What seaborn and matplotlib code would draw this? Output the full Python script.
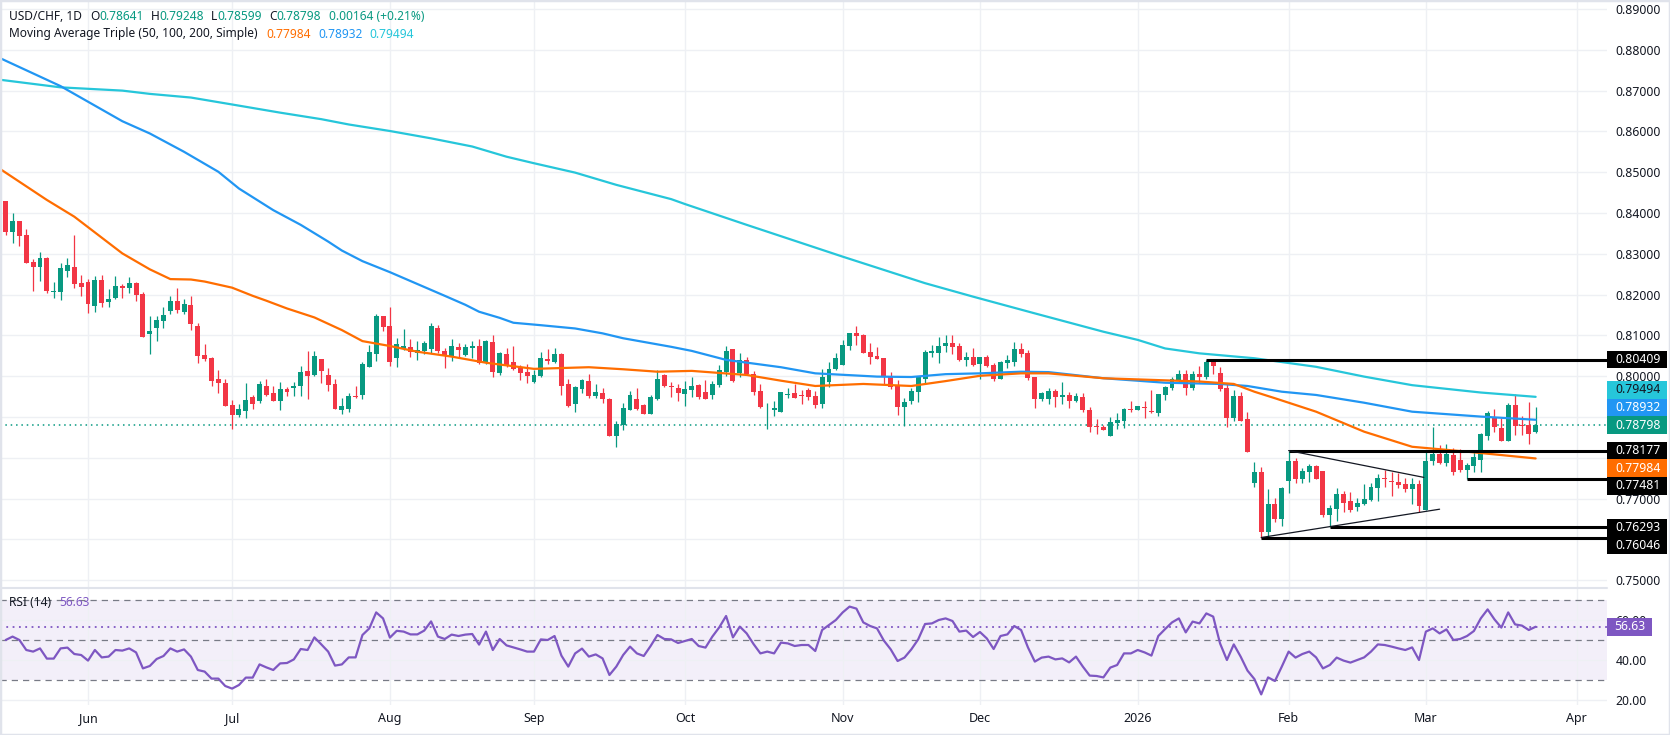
import matplotlib
matplotlib.use("Agg")
import matplotlib.pyplot as plt
import matplotlib.transforms as mtransforms
from matplotlib.patches import Rectangle
from matplotlib.ticker import FuncFormatter
import seaborn as sns
import pandas as pd
import numpy as np

UP = "#089981"
DOWN = "#f23645"
MA50_C = "#ff6d00"
MA100_C = "#2196f3"
MA200_C = "#26c6da"
RSI_C = "#7e57c2"
GRID = "#eef0f4"
TXT = "#131722"

# ---- data (daily candles, every weekday from 15 May 2025) ----
first_day = "2025-05-15"

opens = [0.8429, 0.8354, 0.8380, 0.8346, 0.8280, 0.8268, 0.8290, 0.8206, 0.8207, 0.8259,
         0.8268, 0.8228, 0.8231, 0.8173, 0.8237, 0.8183, 0.8192, 0.8220, 0.8215, 0.8228,
         0.8201, 0.8104, 0.8119, 0.8136, 0.8161, 0.8184, 0.8157, 0.8175, 0.8123, 0.8053,
         0.8045, 0.7993, 0.7983, 0.7929, 0.7905, 0.7915, 0.7949, 0.7938, 0.7976, 0.7960,
         0.7938, 0.7969, 0.7971, 0.7977, 0.8012, 0.8004, 0.8041, 0.8003, 0.7981, 0.7917,
         0.7920, 0.7951, 0.7954, 0.8023, 0.8055, 0.8148, 0.8123, 0.8044, 0.8066, 0.8072,
         0.8058, 0.8062, 0.8067, 0.8118, 0.8062, 0.8049, 0.8072, 0.8052, 0.8070, 0.8074,
         0.8034, 0.8084, 0.8008, 0.8054, 0.8035, 0.8022, 0.8010, 0.7986, 0.8000, 0.8041,
         0.8035, 0.8054, 0.7981, 0.7933, 0.7969, 0.7988, 0.7951, 0.7959, 0.7944, 0.7854,
         0.7880, 0.7917, 0.7944, 0.7929, 0.7908, 0.7945, 0.8002, 0.7976, 0.7971, 0.7957,
         0.7965, 0.7978, 0.7961, 0.7955, 0.7979, 0.8011, 0.8067, 0.8009, 0.8040, 0.8005,
         0.7964, 0.7931, 0.7918, 0.7913, 0.7955, 0.7959, 0.7954, 0.7965, 0.7951, 0.7933,
         0.7986, 0.8018, 0.8027, 0.8075, 0.8106, 0.8101, 0.8059, 0.8049, 0.8045, 0.8000,
         0.7978, 0.7925, 0.7940, 0.7961, 0.7994, 0.8058, 0.8057, 0.8075, 0.8081, 0.8074,
         0.8040, 0.8046, 0.8030, 0.8046, 0.8027, 0.7993, 0.8033, 0.8036, 0.8066, 0.8056,
         0.7997, 0.7943, 0.7945, 0.7964, 0.7950, 0.7954, 0.7938, 0.7950, 0.7917, 0.7879,
         0.7876, 0.7854, 0.7886, 0.7891, 0.7920, 0.7917, 0.7925, 0.7915, 0.7911, 0.7954,
         0.7970, 0.7991, 0.8006, 0.7972, 0.8006, 0.7999, 0.8036, 0.8007, 0.7972, 0.7898,
         0.7951, 0.7895, 0.7739, 0.7764, 0.7619, 0.7687, 0.7650, 0.7742, 0.7792, 0.7749,
         0.7766, 0.7780, 0.7768, 0.7660, 0.7674, 0.7711, 0.7693, 0.7680, 0.7687, 0.7697,
         0.7727, 0.7750, 0.7742, 0.7741, 0.7736, 0.7724, 0.7736, 0.7672, 0.7791, 0.7809,
         0.7788, 0.7807, 0.7795, 0.7769, 0.7780, 0.7795, 0.7854, 0.7899, 0.7874, 0.7842,
         0.7929, 0.7880, 0.7880, 0.78641]

highs = [0.8430, 0.8399, 0.8381, 0.8361, 0.8287, 0.8304, 0.8293, 0.8231, 0.8277, 0.8290,
         0.8346, 0.8248, 0.8238, 0.8246, 0.8247, 0.8214, 0.8246, 0.8225, 0.8242, 0.8232,
         0.8206, 0.8147, 0.8147, 0.8170, 0.8197, 0.8215, 0.8188, 0.8197, 0.8130, 0.8080,
         0.8048, 0.8015, 0.7993, 0.7942, 0.7932, 0.7984, 0.7953, 0.7989, 0.7993, 0.7976,
         0.7985, 0.7973, 0.7985, 0.8025, 0.8061, 0.8062, 0.8041, 0.8019, 0.7992, 0.7947,
         0.7958, 0.7976, 0.8036, 0.8077, 0.8152, 0.8148, 0.8170, 0.8093, 0.8116, 0.8090,
         0.8086, 0.8086, 0.8131, 0.8125, 0.8068, 0.8090, 0.8081, 0.8079, 0.8086, 0.8090,
         0.8089, 0.8101, 0.8060, 0.8068, 0.8074, 0.8027, 0.8031, 0.8015, 0.8060, 0.8067,
         0.8068, 0.8056, 0.7993, 0.7976, 0.7993, 0.8005, 0.7982, 0.7972, 0.7947, 0.7890,
         0.7935, 0.7964, 0.7971, 0.7932, 0.7954, 0.8014, 0.8005, 0.7985, 0.7982, 0.7988,
         0.7997, 0.7980, 0.7991, 0.7988, 0.8027, 0.8074, 0.8067, 0.8057, 0.8046, 0.8012,
         0.7982, 0.7934, 0.7938, 0.7961, 0.7971, 0.7982, 0.7966, 0.7971, 0.7963, 0.8017,
         0.8035, 0.8057, 0.8089, 0.8106, 0.8123, 0.8103, 0.8081, 0.8071, 0.8045, 0.8010,
         0.7991, 0.7947, 0.7970, 0.7997, 0.8064, 0.8077, 0.8095, 0.8100, 0.8100, 0.8081,
         0.8059, 0.8069, 0.8046, 0.8052, 0.8032, 0.8038, 0.8052, 0.8085, 0.8082, 0.8064,
         0.7999, 0.7962, 0.7970, 0.7969, 0.7986, 0.7962, 0.7958, 0.7958, 0.7925, 0.7894,
         0.7880, 0.7901, 0.7911, 0.7923, 0.7939, 0.7927, 0.7940, 0.7966, 0.7956, 0.7976,
         0.7997, 0.8015, 0.8015, 0.8013, 0.8025, 0.8040, 0.80409, 0.8022, 0.7980, 0.7966,
         0.7962, 0.7912, 0.7790, 0.7778, 0.7723, 0.7701, 0.7729, 0.78177, 0.7799, 0.7774,
         0.7785, 0.7782, 0.7768, 0.7684, 0.7725, 0.7719, 0.7716, 0.7701, 0.7736, 0.7737,
         0.7760, 0.7769, 0.7764, 0.7762, 0.7750, 0.7750, 0.7746, 0.7815, 0.7876, 0.7831,
         0.7833, 0.7823, 0.7821, 0.7788, 0.7813, 0.7860, 0.7915, 0.7919, 0.7897, 0.7934,
         0.7956, 0.7902, 0.7937, 0.79248]

lows = [0.8346, 0.8327, 0.8318, 0.8277, 0.8210, 0.8234, 0.8205, 0.8192, 0.8187, 0.8244,
        0.8217, 0.8197, 0.8156, 0.8158, 0.8170, 0.8170, 0.8189, 0.8192, 0.8203, 0.8185,
        0.8097, 0.8055, 0.8087, 0.8119, 0.8152, 0.8154, 0.8153, 0.8113, 0.8033, 0.8037,
        0.7977, 0.7958, 0.7927, 0.7870, 0.7901, 0.7898, 0.7920, 0.7934, 0.7952, 0.7938,
        0.7917, 0.7951, 0.7951, 0.7951, 0.7944, 0.8001, 0.7984, 0.7964, 0.7919, 0.7908,
        0.7912, 0.7946, 0.7943, 0.8022, 0.8038, 0.8111, 0.8025, 0.8023, 0.8063, 0.8046,
        0.8040, 0.8054, 0.8058, 0.8058, 0.8021, 0.8038, 0.8045, 0.8049, 0.8044, 0.8030,
        0.8031, 0.7998, 0.8004, 0.8022, 0.8015, 0.7991, 0.7984, 0.7984, 0.7998, 0.8030,
        0.8033, 0.7954, 0.7925, 0.7913, 0.7960, 0.7947, 0.7947, 0.7935, 0.7854, 0.7827,
        0.7868, 0.7916, 0.7917, 0.7908, 0.7907, 0.7942, 0.7973, 0.7949, 0.7938, 0.7928,
        0.7949, 0.7945, 0.7945, 0.7945, 0.7973, 0.8000, 0.7987, 0.7999, 0.8002, 0.7955,
        0.7923, 0.7871, 0.7902, 0.7913, 0.7946, 0.7947, 0.7933, 0.7942, 0.7923, 0.7923,
        0.7974, 0.8015, 0.8027, 0.8064, 0.8077, 0.8056, 0.8030, 0.8041, 0.7982, 0.7968,
        0.7906, 0.7877, 0.7931, 0.7936, 0.7984, 0.8046, 0.8033, 0.8060, 0.8055, 0.8037,
        0.8026, 0.8025, 0.7994, 0.8022, 0.7989, 0.7992, 0.8019, 0.8025, 0.8048, 0.7991,
        0.7923, 0.7940, 0.7932, 0.7925, 0.7933, 0.7923, 0.7937, 0.7913, 0.7864, 0.7858,
        0.7867, 0.7854, 0.7871, 0.7872, 0.7913, 0.7917, 0.7898, 0.7911, 0.7903, 0.7942,
        0.7966, 0.7983, 0.7954, 0.7966, 0.7984, 0.7992, 0.8005, 0.7964, 0.7876, 0.7889,
        0.7891, 0.7813, 0.7729, 0.76046, 0.7607, 0.7643, 0.7634, 0.7713, 0.7737, 0.7737,
        0.7740, 0.7747, 0.7656, 0.76293, 0.7646, 0.7666, 0.7668, 0.7670, 0.7684, 0.7695,
        0.7693, 0.7729, 0.7706, 0.7726, 0.7715, 0.7687, 0.7668, 0.7672, 0.7782, 0.7785,
        0.7781, 0.7758, 0.7764, 0.77481, 0.7764, 0.7764, 0.7844, 0.7864, 0.7842, 0.7842,
        0.7856, 0.7856, 0.7833, 0.78599]

closes = [0.8354, 0.8380, 0.8344, 0.8278, 0.8268, 0.8290, 0.8210, 0.8209, 0.8265, 0.8273,
          0.8227, 0.8219, 0.8178, 0.8236, 0.8180, 0.8188, 0.8221, 0.8215, 0.8228, 0.8199,
          0.8097, 0.8111, 0.8138, 0.8150, 0.8184, 0.8162, 0.8178, 0.8129, 0.8050, 0.8041,
          0.7989, 0.7984, 0.7927, 0.7905, 0.7920, 0.7942, 0.7932, 0.7981, 0.7955, 0.7940,
          0.7969, 0.7962, 0.7975, 0.8010, 0.8001, 0.8050, 0.8013, 0.7979, 0.7920, 0.7927,
          0.7951, 0.7949, 0.8030, 0.8059, 0.8148, 0.8121, 0.8036, 0.8079, 0.8074, 0.8060,
          0.8064, 0.8081, 0.8124, 0.8062, 0.8052, 0.8074, 0.8064, 0.8072, 0.8074, 0.8033,
          0.8087, 0.8011, 0.8057, 0.8027, 0.8017, 0.8008, 0.8000, 0.8003, 0.8045, 0.8038,
          0.8054, 0.7977, 0.7927, 0.7974, 0.7991, 0.7951, 0.7961, 0.7943, 0.7854, 0.7884,
          0.7922, 0.7953, 0.7920, 0.7908, 0.7949, 0.7993, 0.7976, 0.7974, 0.7960, 0.7969,
          0.7976, 0.7950, 0.7945, 0.7981, 0.8015, 0.8062, 0.7989, 0.8040, 0.8005, 0.7961,
          0.7925, 0.7933, 0.7923, 0.7961, 0.7957, 0.7947, 0.7952, 0.7949, 0.7929, 0.7998,
          0.8018, 0.8044, 0.8077, 0.8106, 0.8099, 0.8058, 0.8048, 0.8043, 0.8000, 0.7974,
          0.7925, 0.7937, 0.7964, 0.7997, 0.8059, 0.8061, 0.8074, 0.8081, 0.8072, 0.8040,
          0.8046, 0.8027, 0.8046, 0.8026, 0.7993, 0.8036, 0.8040, 0.8066, 0.8054, 0.7996,
          0.7943, 0.7960, 0.7964, 0.7950, 0.7954, 0.7938, 0.7952, 0.7916, 0.7876, 0.7876,
          0.7867, 0.7887, 0.7893, 0.7920, 0.7918, 0.7927, 0.7921, 0.7912, 0.7956, 0.7974,
          0.7993, 0.8006, 0.7972, 0.8006, 0.7999, 0.8036, 0.8025, 0.7969, 0.7898, 0.7951,
          0.7891, 0.7813, 0.7764, 0.7619, 0.7687, 0.7650, 0.7727, 0.7792, 0.7749, 0.7768,
          0.7780, 0.7749, 0.7660, 0.7676, 0.7711, 0.7690, 0.7672, 0.7690, 0.7698, 0.7728,
          0.7750, 0.7747, 0.7740, 0.7734, 0.7724, 0.7736, 0.7682, 0.7792, 0.7809, 0.7788,
          0.7809, 0.7764, 0.7769, 0.7782, 0.7801, 0.7858, 0.7911, 0.7875, 0.7842, 0.7929,
          0.7879, 0.7878, 0.7858, 0.78798]

rsi_vals = [50.0, 51.7, 50.0, 45.0, 44.2, 45.8, 40.7, 40.7, 45.8, 46.2,
            43.0, 42.5, 39.7, 45.0, 41.3, 41.7, 45.0, 44.7, 45.8, 43.8,
            35.8, 37.0, 40.5, 42.0, 45.8, 44.2, 45.3, 41.7, 35.0, 34.2,
            30.7, 30.7, 27.0, 25.7, 27.5, 31.2, 31.2, 37.8, 36.3, 35.0,
            38.3, 38.5, 40.3, 45.5, 45.0, 51.3, 47.8, 44.2, 37.2, 37.8,
            41.3, 41.3, 52.5, 55.8, 63.8, 60.8, 51.2, 54.6, 54.2, 52.8,
            52.8, 54.7, 59.3, 51.7, 50.5, 52.7, 52.0, 52.7, 53.0, 47.7,
            54.2, 45.0, 50.5, 47.3, 46.3, 45.3, 44.2, 44.2, 50.3, 50.0,
            52.0, 42.2, 36.7, 43.3, 45.7, 41.7, 42.8, 40.8, 32.5, 36.7,
            42.5, 46.7, 43.3, 42.0, 47.0, 52.5, 50.5, 50.3, 48.5, 49.5,
            50.5, 47.0, 46.2, 51.7, 56.3, 62.0, 51.3, 56.7, 53.3, 48.0,
            43.3, 44.2, 43.3, 48.7, 48.3, 47.0, 47.5, 47.5, 44.5, 55.0,
            57.5, 60.0, 63.8, 66.7, 65.7, 58.8, 57.0, 55.8, 49.7, 45.3,
            39.5, 41.2, 45.3, 50.3, 58.0, 58.3, 60.0, 60.8, 59.5, 54.2,
            54.7, 51.5, 54.0, 50.8, 45.5, 52.0, 52.8, 57.0, 55.0, 46.3,
            39.2, 41.2, 41.7, 40.3, 40.8, 38.8, 41.7, 36.7, 32.2, 32.0,
            31.3, 36.2, 37.5, 43.3, 43.3, 45.0, 43.8, 42.2, 52.0, 55.5,
            58.8, 60.8, 53.8, 59.2, 58.3, 63.3, 61.7, 48.3, 40.0, 47.8,
            41.7, 34.7, 30.5, 22.8, 31.3, 29.5, 36.7, 44.2, 41.2, 43.0,
            44.2, 41.3, 35.8, 37.5, 41.2, 39.7, 38.7, 40.0, 41.3, 44.2,
            47.8, 47.5, 46.7, 45.8, 45.0, 46.3, 40.0, 54.2, 55.8, 53.3,
            55.3, 50.0, 50.5, 52.0, 54.5, 60.8, 65.3, 60.3, 56.2, 63.8,
            57.8, 57.2, 55.0, 56.63]

# moving averages, sampled along the drawn lines (bar number, value)
ma50_bar = [-1, 6, 10, 17, 21, 24, 27, 29, 33, 36, 38, 41, 45, 49, 52, 56, 60, 65, 70, 77,
            85, 90, 95, 100, 108, 113, 118, 125, 132, 137, 142, 148, 152, 160, 167, 174,
            179, 182, 185, 191, 198, 205, 213, 223]
ma50_val = [0.8510, 0.8432, 0.8391, 0.8301, 0.8262, 0.8238, 0.8237, 0.8232, 0.8217, 0.8197,
            0.8185, 0.8166, 0.8144, 0.8113, 0.8086, 0.8074, 0.8060, 0.8048, 0.8033, 0.8018,
            0.8022, 0.8017, 0.8011, 0.8013, 0.8003, 0.7989, 0.7976, 0.7981, 0.7976, 0.7988,
            0.8001, 0.8007, 0.8007, 0.7995, 0.7991, 0.7987, 0.7981, 0.7962, 0.7946, 0.7913,
            0.7864, 0.7827, 0.7815, 0.77984]
ma100_bar = [-1, 8, 17, 21, 26, 31, 34, 39, 43, 47, 49, 52, 56, 60, 64, 67, 69, 72, 74, 78,
             83, 87, 90, 97, 100, 105, 113, 118, 127, 132, 137, 142, 148, 152, 160, 169,
             177, 181, 186, 191, 198, 205, 215, 223]
ma100_val = [0.8781, 0.8711, 0.8625, 0.8595, 0.8550, 0.8501, 0.8460, 0.8407, 0.8371, 0.8330,
             0.8308, 0.8282, 0.8255, 0.8226, 0.8197, 0.8175, 0.8158, 0.8143, 0.8131, 0.8125,
             0.8117, 0.8105, 0.8093, 0.8072, 0.8062, 0.8040, 0.8022, 0.8007, 0.7999, 0.7998,
             0.8005, 0.8007, 0.8011, 0.8010, 0.7995, 0.7984, 0.7981, 0.7976, 0.7962, 0.7954,
             0.7935, 0.7913, 0.7901, 0.78932]
ma200_bar = [-1, 8, 17, 21, 27, 33, 40, 46, 50, 56, 62, 68, 73, 77, 83, 89, 97, 99, 108,
             122, 134, 141, 150, 160, 165, 169, 174, 182, 191, 198, 205, 215, 223]
ma200_val = [0.8727, 0.8708, 0.8700, 0.8692, 0.8683, 0.8666, 0.8646, 0.8630, 0.8617, 0.8601,
             0.8583, 0.8563, 0.8538, 0.8522, 0.8499, 0.8469, 0.8434, 0.8422, 0.8371, 0.8293,
             0.8228, 0.8195, 0.8154, 0.8109, 0.8089, 0.8068, 0.8056, 0.8044, 0.8023, 0.7999,
             0.7978, 0.7960, 0.79494]

# drawn levels (price, first bar) and the triangle
levels = [0.80409, 0.78177, 0.77481, 0.76293, 0.76046]
level_from = [175, 187, 213, 193, 183]
tri_top_bar = [187, 206.7]
tri_top_val = [0.78177, 0.7752]
tri_low_bar = [183, 209.0]
tri_low_val = [0.76046, 0.7674]

last_close = 0.78798
ma_last = {"50": 0.77984, "100": 0.78932, "200": 0.79494}
rsi_last = 56.63

assert len(opens) == len(highs) == len(lows) == len(closes) == len(rsi_vals)

df = pd.DataFrame({
    "date": pd.bdate_range(first_day, periods=len(closes)),
    "open": opens, "high": highs, "low": lows, "close": closes, "rsi": rsi_vals,
})
df["bar"] = np.arange(len(df))

# month ticks: first weekday of each month
axis_days = pd.bdate_range(first_day, "2026-04-30")
bar_no = pd.Series(np.arange(len(axis_days)), index=axis_days)
firsts = bar_no.groupby([axis_days.year, axis_days.month]).min()
firsts = firsts[firsts > 0]
month_pos = list(firsts.values)
month_lab = ["2026" if m == 1 else pd.Timestamp(year=y, month=m, day=1).strftime("%b")
             for (y, m) in firsts.index]

# ---- figure ----
sns.set_theme(style="white")
plt.rcParams["font.family"] = ["Noto Sans", "DejaVu Sans"]

W, H = 1670, 735
fig = plt.figure(figsize=(W / 100, H / 100), dpi=100)
fig.patch.set_facecolor("white")

PANE_R = 1607
ax = fig.add_axes([0, 1 - 587 / H, PANE_R / W, 587 / H])
ax2 = fig.add_axes([0, 1 - 705 / H, PANE_R / W, 117 / H])

x_lo, x_hi = -0.83, 233.4
p_lo, p_hi = 0.74833, 0.89221
r_lo, r_hi = 17.5, 76.0

for a in (ax, ax2):
    for s in a.spines.values():
        s.set_visible(False)
    a.set_xlim(x_lo, x_hi)
    a.set_xticks(month_pos)
    a.grid(True, color=GRID, lw=1)
    a.set_axisbelow(True)
    a.yaxis.tick_right()
    a.tick_params(axis="y", length=0, pad=6, labelsize=8.8, labelcolor=TXT)
    a.tick_params(axis="x", length=0)

# right-hand price tags, stacked so they do not overlap (last price keeps its place)
tags = [(levels[0], "black", "white"), (ma_last["200"], MA200_C, TXT),
        (ma_last["100"], MA100_C, "white"), (last_close, UP, "white"),
        (levels[1], "black", "white"), (ma_last["50"], MA50_C, "white"),
        (levels[2], "black", "white"), (levels[3], "black", "white"),
        (levels[4], "black", "white")]
tags.sort(key=lambda t: -t[0])
px = (p_hi - p_lo) / 587
h = 17.7 * px
pos = [t[0] for t in tags]
k = pos.index(last_close)
for j in range(k - 1, -1, -1):
    pos[j] = max(tags[j][0], pos[j + 1] + h)
for j in range(k + 1, len(tags)):
    pos[j] = min(tags[j][0], pos[j - 1] - h)


def price_label(v, _):
    # ticks hidden behind a tag are not drawn
    if any(abs(v - p) < h / 2 for p in pos):
        return ""
    return f"{v:.5f}"


# price pane
ax.set_ylim(p_lo, p_hi)
ax.set_yticks([round(0.75 + 0.01 * k, 2) for k in range(15)])
ax.yaxis.set_major_formatter(FuncFormatter(price_label))
ax.tick_params(axis="x", labelbottom=False)

ax.axhline(last_close, color=UP, lw=1.1, ls=(0, (1, 2.5)), zorder=2)

up = df["close"] >= df["open"]
col = np.where(up, UP, DOWN)
ax.vlines(df["bar"], df["low"], df["high"], colors=col, lw=0.9, zorder=3)
body = (df["close"] - df["open"]).abs().clip(lower=0.00006)
ax.bar(df["bar"], body, bottom=np.minimum(df["open"], df["close"]), width=0.72,
       color=col, lw=0, zorder=4)

for bars, vals, c in [(ma200_bar, ma200_val, MA200_C), (ma100_bar, ma100_val, MA100_C),
                      (ma50_bar, ma50_val, MA50_C)]:
    sns.lineplot(x=bars, y=vals, color=c, lw=1.6, ax=ax, estimator=None, sort=False, zorder=5)

ax.hlines(levels, level_from, x_hi, colors="black", lw=2.2, zorder=6)
ax.plot(tri_top_bar, tri_top_val, color=TXT, lw=0.9, zorder=6)
ax.plot(tri_low_bar, tri_low_val, color=TXT, lw=0.9, zorder=6)

tr = mtransforms.blended_transform_factory(ax.transAxes, ax.transData)
for (v, fc, tc), p in zip(tags, pos):
    ax.add_patch(Rectangle((1.0, p - h / 2), 60 / PANE_R, h, transform=tr, fc=fc, ec="none",
                           clip_on=False, zorder=10))
    ax.text(1.0 + 8 / PANE_R, p, f"{v:.5f}", transform=tr, color=tc, fontsize=8.8,
            va="center", ha="left", zorder=11, clip_on=False)

# RSI pane
ax2.set_ylim(r_lo, r_hi)
ax2.set_yticks([20, 40, 60])
ax2.yaxis.set_major_formatter(FuncFormatter(lambda v, _: f"{v:.2f}"))
ax2.set_xticklabels(month_lab)
ax2.tick_params(axis="x", pad=5, labelsize=9, labelcolor=TXT)
for t in ax2.get_xticklabels():
    if t.get_text() == "2026":
        t.set_fontweight("bold")

ax2.axhspan(30, 70, color=RSI_C, alpha=0.09, lw=0, zorder=0.5)
ax2.hlines([70, 50, 30], x_lo, x_hi, colors="#787b86", lw=0.9, linestyles=(0, (5, 4)), zorder=2)
ax2.axhline(rsi_last, color=RSI_C, lw=1.3, ls=(0, (1, 2.5)), zorder=2)
sns.lineplot(data=df, x="bar", y="rsi", color=RSI_C, lw=1.6, ax=ax2, estimator=None, zorder=4)
for a in (ax, ax2):
    a.set_xlabel("")
    a.set_ylabel("")

tr2 = mtransforms.blended_transform_factory(ax2.transAxes, ax2.transData)
hr = 17.7 * (r_hi - r_lo) / 117
ax2.add_patch(Rectangle((1.0, rsi_last - hr / 2), 45 / PANE_R, hr, transform=tr2, fc=RSI_C,
                        ec="none", clip_on=False, zorder=10))
ax2.text(1.0 + 7 / PANE_R, rsi_last, f"{rsi_last:.2f}", transform=tr2, color="white",
         fontsize=8.8, va="center", ha="left", zorder=11, clip_on=False)

# pane separator and outer frame
fig.add_artist(plt.Line2D([0, PANE_R / W], [1 - 587.5 / H] * 2, color="#e0e3eb", lw=1.5))
fig.add_artist(Rectangle((0, 0), 1, 1, transform=fig.transFigure, fill=False,
                         ec="#e0e3eb", lw=2.5))

# legend rows, laid out piece by piece
renderer = fig.canvas.get_renderer()


def put_row(x, y, parts, size=8.6):
    for s, c, gap in parts:
        t = fig.text(x / W, 1 - y / H, s, color=c, fontsize=size, va="center", ha="left")
        x += t.get_window_extent(renderer=renderer).width + gap


put_row(9, 16, [("USD/CHF, 1D", TXT, 8), ("O", TXT, 0), ("0.78641", UP, 7), ("H", TXT, 0),
                ("0.79248", UP, 7), ("L", TXT, 0), ("0.78599", UP, 7), ("C", TXT, 0),
                ("0.78798", UP, 8), ("0.00164 (+0.21%)", UP, 0)])
put_row(9, 34, [("Moving Average Triple (50, 100, 200, Simple)", TXT, 9),
                (f"{ma_last['50']:.5f}", MA50_C, 7), (f"{ma_last['100']:.5f}", MA100_C, 7),
                (f"{ma_last['200']:.5f}", MA200_C, 0)])
put_row(9, 603, [("RSI (14)", TXT, 8), (f"{rsi_last:.2f}", RSI_C, 0)])

fig.savefig("out.png", dpi=100, facecolor="white")
